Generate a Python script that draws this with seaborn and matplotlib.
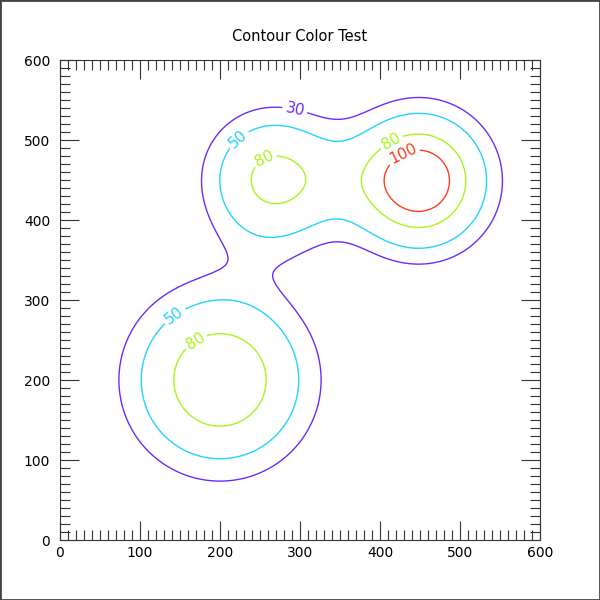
import numpy as np
import matplotlib
matplotlib.use('Agg')
import matplotlib.pyplot as plt
from matplotlib.ticker import MultipleLocator
import seaborn as sns

# the three bumps of the field
peak_x = [200, 267, 449]
peak_y = [200, 451, 449]
peak_height = [97.6, 85.6, 114.4]
peak_width = [117.5, 87.8, 91.5]
peak_shape = 2.27

levels = [30, 50, 80, 100]
level_colors = ['#6a2cff', '#22d3ff', '#a8f519', '#ff3b1f']

# where the inline labels sit
label_pos = [(294, 540), (222, 502), (255, 477), (415, 497), (428, 484), (140, 285), (168, 251)]

sns.set_style('ticks')
plt.rcParams['font.family'] = ['DejaVu Sans']

# build the grid for contour
x = np.linspace(0, 600, 601)
y = np.linspace(0, 600, 601)
X, Y = np.meshgrid(x, y)
Z = np.zeros_like(X)
for px, py, h, w in zip(peak_x, peak_y, peak_height, peak_width):
    r = np.hypot(X - px, Y - py)
    Z += h * np.exp(-(r / w) ** peak_shape)

fig = plt.figure(figsize=(6, 6), dpi=100)
ax = fig.add_axes([0.1, 0.1, 0.8, 0.8])

cs = ax.contour(X, Y, Z, levels=levels, colors=level_colors, linewidths=1.0)
ax.clabel(cs, fmt='%d', fontsize=11, inline=True, inline_spacing=3, manual=label_pos)

ax.set_xlim(0, 600)
ax.set_ylim(0, 600)
ax.set_xticks(range(0, 601, 100))
ax.set_yticks(range(0, 601, 100))
ax.xaxis.set_minor_locator(MultipleLocator(10))
ax.yaxis.set_minor_locator(MultipleLocator(10))
ax.tick_params(which='both', direction='in', top=True, right=True, color='#333333', width=0.8,
               labelsize=10, labelcolor='black')
ax.tick_params(which='major', length=14)
ax.tick_params(which='minor', length=7)
ax.tick_params(axis='x', pad=4)
ax.tick_params(axis='y', pad=7)
for sp in ax.spines.values():
    sp.set_color('#333333')
    sp.set_linewidth(0.8)

ax.set_title('Contour Color Test', fontsize=10.5, color='black', pad=14)

# frame round the whole picture
fig.add_artist(plt.Rectangle((0, 0), 1, 1, transform=fig.transFigure, fill=False, edgecolor='#444444', linewidth=2))

fig.savefig('out.png', dpi=100)
